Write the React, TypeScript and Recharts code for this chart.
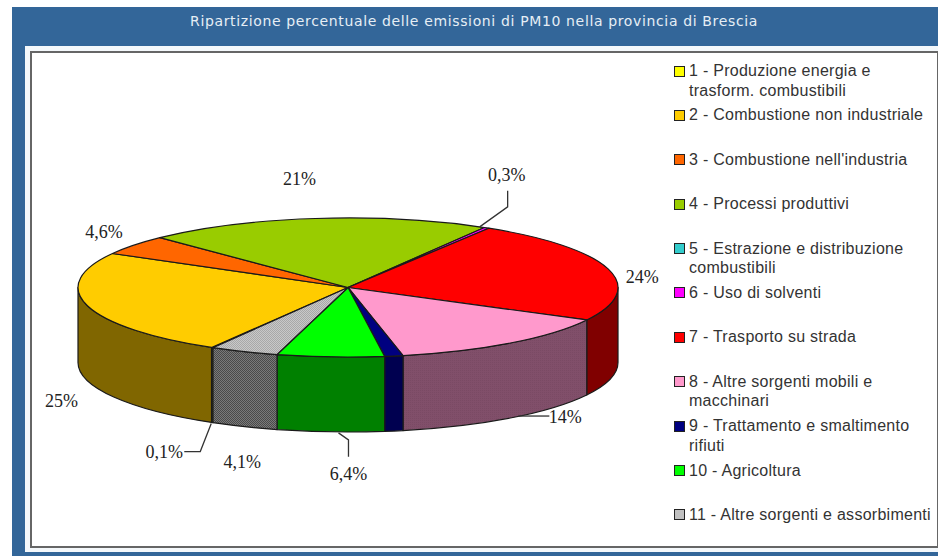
import React from 'react';
import { PieChart, Pie, Legend } from 'recharts';

const title = 'Ripartizione percentuale delle emissioni di PM10 nella provincia di Brescia';

const categories = [
  '1 - Produzione energia e\ntrasform. combustibili',
  '2 - Combustione non industriale',
  "3 - Combustione nell'industria",
  '4 - Processi produttivi',
  '5 - Estrazione e distribuzione\ncombustibili',
  '6 - Uso di solventi',
  '7 - Trasporto su strada',
  '8 - Altre sorgenti mobili e\nmacchinari',
  '9 - Trattamento e smaltimento\nrifiuti',
  '10 - Agricoltura',
  '11 - Altre sorgenti e assorbimenti',
];
const values = [0.1, 24.7, 4.6, 20.7, 0, 0.3, 24, 14, 1.1, 6.4, 4.1];
const valueLabels = ['0,1%', '25%', '4,6%', '21%', '', '0,3%', '24%', '14%', '', '6,4%', '4,1%'];

const topColors = ['#ffff00', '#ffcc00', '#ff6600', '#99cc00', '#33cccc', '#ff00ff', '#ff0000', '#ff99cc', '#000080', '#00ff00', 'url(#grayTop)'];
const legendColors = ['#ffff00', '#ffcc00', '#ff6600', '#99cc00', '#33cccc', '#ff00ff', '#ff0000', '#ff99cc', '#000080', '#00ff00', '#c0c0c0'];
const wallColors = ['#808000', '#806600', '#803300', '#4c6600', '#1a6666', '#800080', '#800000', 'url(#pinkWall)', '#000050', '#008000', 'url(#grayWall)'];

// label placement relative to the rim point at each slice's middle angle
const labelOffsets: Record<number, number[]> = {
  0: [-48, 29],
  1: [-26, 20],
  2: [-30, -13],
  3: [-16, -40],
  5: [20, -53],
  6: [34, 8],
  7: [55, -1],
  9: [18, 42],
  10: [-2, 35],
};
const leaders: Record<number, number[][]> = {
  0: [[-1, 1], [-12, 29], [-28, 29]],
  5: [[-7, -1], [21, -21], [21, -37]],
  7: [[8, -2], [39, -2]],
  9: [[8, 1], [18, 8], [18, 25]],
};

const tableData = categories.map((name, i) => ({
  name,
  value: values[i],
  fill: topColors[i],
  wall: wallColors[i],
  legendFill: legendColors[i],
}));

const SQUASH = 0.2574; // ellipse height / width of the tilted disc
const DEPTH = 75;
const RAD = Math.PI / 180;

function rim(cx: number, cy: number, r: number, deg: number) {
  return [cx + r * Math.cos(deg * RAD), cy - r * SQUASH * Math.sin(deg * RAD)];
}

function TopSlice(props: any) {
  const { cx, cy, outerRadius: r, startAngle, endAngle, fill } = props;
  if (Math.abs(startAngle - endAngle) < 0.001) return null;
  const [x1, y1] = rim(cx, cy, r, startAngle);
  const [x2, y2] = rim(cx, cy, r, endAngle);
  const large = Math.abs(startAngle - endAngle) > 180 ? 1 : 0;
  const d = `M${cx},${cy}L${x1},${y1}A${r},${r * SQUASH} 0 ${large} 1 ${x2},${y2}Z`;
  return <path d={d} fill={fill} stroke="#1a1a1a" strokeWidth={1.2} strokeLinejoin="round" />;
}

// the part of a slice's rim that faces the viewer, dropped down by the disc depth
function WallSlice(props: any) {
  const { cx, cy, outerRadius: r, startAngle, endAngle, wall } = props;
  if (Math.abs(startAngle - endAngle) < 0.001) return null;
  const parts: React.ReactNode[] = [];
  [[0, -180], [-360, -540]].forEach(([hi, lo]) => {
    const a = Math.min(startAngle, hi);
    const b = Math.max(endAngle, lo);
    if (a <= b) return;
    const [x1, y1] = rim(cx, cy, r, a);
    const [x2, y2] = rim(cx, cy, r, b);
    const ry = r * SQUASH;
    const d = `M${x1},${y1}A${r},${ry} 0 0 1 ${x2},${y2}L${x2},${y2 + DEPTH}A${r},${ry} 0 0 0 ${x1},${y1 + DEPTH}Z`;
    parts.push(<path key={hi} d={d} fill={wall} stroke="#1a1a1a" strokeWidth={1.2} strokeLinejoin="round" />);
  });
  return <g>{parts}</g>;
}

function SliceLabel(props: any) {
  const { cx, cy, outerRadius: r, midAngle, index } = props;
  const offset = labelOffsets[index];
  if (!offset) return null;
  const [rx, ry0] = rim(cx, cy, r, midAngle);
  const ry = Math.sin(midAngle * RAD) < 0 ? ry0 + DEPTH : ry0;
  const leader = leaders[index];
  return (
    <g>
      {leader && (
        <polyline
          points={leader.map(([dx, dy]) => `${rx + dx},${ry + dy}`).join(' ')}
          fill="none"
          stroke="#333"
          strokeWidth={1.3}
        />
      )}
      <text
        x={rx + offset[0]}
        y={ry + offset[1]}
        textAnchor="middle"
        dominantBaseline="central"
        fontFamily="'Liberation Serif', serif"
        fontSize={18}
        fill="#222"
      >
        {valueLabels[index]}
      </text>
    </g>
  );
}

function LegendList() {
  return (
    <div style={{ position: 'absolute', left: 673, top: 49, width: 264 }}>
      {tableData.map((item) => {
        const lines = item.name.split('\n');
        return (
          <div key={item.name} style={{ position: 'relative', height: 44.4, fontFamily: "'Liberation Sans', Arial, sans-serif", fontSize: 16, lineHeight: '19.5px', color: '#333', letterSpacing: 0.27 }}>
            <span style={{ position: 'absolute', left: 1, top: 16.5, width: 9, height: 9, background: item.legendFill, border: '1px solid #222' }} />
            <div style={{ position: 'absolute', left: 16, top: 12, whiteSpace: 'nowrap' }}>
              {lines.map((line: string) => (
                <div key={line}>{line}</div>
              ))}
            </div>
          </div>
        );
      })}
    </div>
  );
}

export default function App() {
  return (
    <div style={{ position: 'absolute', left: 0, top: 0, width: 938, height: 556, background: '#fff', overflow: 'hidden' }}>
      <div style={{ position: 'absolute', left: 12, top: 7, width: 926, height: 549, background: '#336699' }} />
      <div style={{ position: 'absolute', left: 25, top: 46, width: 913, height: 506, background: '#f4f8fb' }} />
      <div style={{ position: 'absolute', left: 30, top: 51, width: 905, height: 493, background: '#fff', border: '2px solid #666' }} />
      <div style={{ position: 'absolute', left: 11, top: 13, width: 926, textAlign: 'center', color: '#e6eef5', fontFamily: "'DejaVu Sans', sans-serif", fontSize: 14, letterSpacing: 0.64 }}>
        {title}
      </div>
      <div style={{ position: 'absolute', left: 0, top: 0 }}>
        <PieChart width={938} height={556} margin={{ top: 0, right: 0, bottom: 0, left: 0 }}>
          <defs>
            <pattern id="grayTop" width="2" height="2" patternUnits="userSpaceOnUse">
              <rect width="2" height="2" fill="#c8c8c8" />
              <rect width="1" height="1" fill="#a8a8a8" />
              <rect x="1" y="1" width="1" height="1" fill="#a8a8a8" />
            </pattern>
            <pattern id="grayWall" width="2" height="2" patternUnits="userSpaceOnUse">
              <rect width="2" height="2" fill="#7a7a7a" />
              <rect width="1" height="1" fill="#4a4a4a" />
              <rect x="1" y="1" width="1" height="1" fill="#4a4a4a" />
            </pattern>
            <pattern id="pinkWall" width="2" height="2" patternUnits="userSpaceOnUse">
              <rect width="2" height="2" fill="#814f6a" />
              <rect width="1" height="1" fill="#7a4a64" />
            </pattern>
          </defs>
          <Pie
            data={tableData}
            dataKey="value"
            nameKey="name"
            cx={348}
            cy={287.5}
            innerRadius={0}
            outerRadius={270}
            startAngle={-120}
            endAngle={-480}
            legendType="none"
            shape={WallSlice}
            isAnimationActive={false}
          />
          <Pie
            data={tableData}
            dataKey="value"
            nameKey="name"
            cx={348}
            cy={287.5}
            innerRadius={0}
            outerRadius={270}
            startAngle={-120}
            endAngle={-480}
            shape={TopSlice}
            label={SliceLabel}
            labelLine={false}
            isAnimationActive={false}
          />
          <Legend content={LegendList} wrapperStyle={{ position: 'absolute', left: 0, top: 0 }} />
        </PieChart>
      </div>
    </div>
  );
}
